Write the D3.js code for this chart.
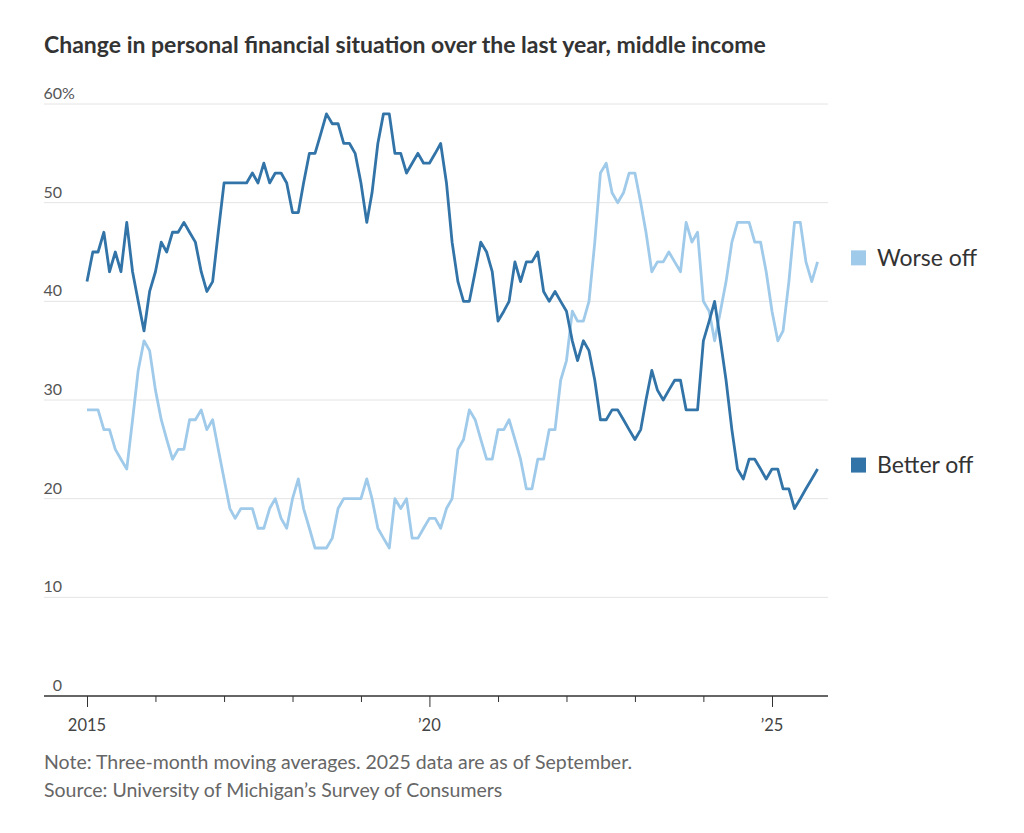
<!DOCTYPE html>
<html>
<head>
<meta charset="utf-8">
<script src="https://cdn.jsdelivr.net/npm/d3@7"></script>
<style>
  body { margin: 0; background: #fff; }
  text { font-family: Lato, "Noto Sans", sans-serif; }
</style>
</head>
<body>
<div id="chart"></div>
<script>
// monthly values, Jan 2015 .. Sep 2025 (three-month moving averages, %)
const worseOff = [
  29, 29, 29, 27, 27, 25, 24, 23, 28, 33, 36, 35,
  31, 28, 26, 24, 25, 25, 28, 28, 29, 27, 28, 25,
  22, 19, 18, 19, 19, 19, 17, 17, 19, 20, 18, 17,
  20, 22, 19, 17, 15, 15, 15, 16, 19, 20, 20, 20,
  20, 22, 20, 17, 16, 15, 20, 19, 20, 16, 16, 17,
  18, 18, 17, 19, 20, 25, 26, 29, 28, 26, 24, 24,
  27, 27, 28, 26, 24, 21, 21, 24, 24, 27, 27, 32,
  34, 39, 38, 38, 40, 46, 53, 54, 51, 50, 51, 53,
  53, 50, 47, 43, 44, 44, 45, 44, 43, 48, 46, 47,
  40, 39, 36, 39, 42, 46, 48, 48, 48, 46, 46, 43,
  39, 36, 37, 42, 48, 48, 44, 42, 44
];
const betterOff = [
  42, 45, 45, 47, 43, 45, 43, 48, 43, 40, 37, 41,
  43, 46, 45, 47, 47, 48, 47, 46, 43, 41, 42, 47,
  52, 52, 52, 52, 52, 53, 52, 54, 52, 53, 53, 52,
  49, 49, 52, 55, 55, 57, 59, 58, 58, 56, 56, 55,
  52, 48, 51, 56, 59, 59, 55, 55, 53, 54, 55, 54,
  54, 55, 56, 52, 46, 42, 40, 40, 43, 46, 45, 43,
  38, 39, 40, 44, 42, 44, 44, 45, 41, 40, 41, 40,
  39, 36, 34, 36, 35, 32, 28, 28, 29, 29, 28, 27,
  26, 27, 30, 33, 31, 30, 31, 32, 32, 29, 29, 29,
  36, 38, 40, 36, 32, 27, 23, 22, 24, 24, 23, 22,
  23, 23, 21, 21, 19, 20, 21, 22, 23
];
const seriesNames = ["Worse off", "Better off"];
const seriesColors = ["#9fcaea", "#3274a8"];
const yTicks = [0, 10, 20, 30, 40, 50, 60];
const tickYears = d3.range(2015, 2026);
const yearLabels = {2015: "2015", 2020: "\u201920", 2025: "\u201925"};

const months = worseOff.map((d, i) => new Date(2015, i, 1));

const width = 1024, height = 833;
const left = 44, right = 828;

const svg = d3.select("#chart")
    .append("svg")
    .attr("width", width)
    .attr("height", height);

const x = d3.scaleTime()
    .domain([new Date(2015, 0, 1), new Date(2025, 0, 1)])
    .range([87, 772]);
const y = d3.scaleLinear()
    .domain([0, 60])
    .range([696, 104]);

// title
svg.append("text")
    .attr("x", left)
    .attr("y", 53)
    .attr("font-size", 23)
    .attr("font-weight", 700)
    .attr("fill", "#333")
    .text("Change in personal financial situation over the last year, middle income");

// gridlines
svg.append("g")
    .selectAll("line")
    .data(yTicks.filter(d => d > 0))
    .join("line")
    .attr("x1", left).attr("x2", right)
    .attr("y1", d => y(d)).attr("y2", d => y(d))
    .attr("stroke", "#e4e4e4")
    .attr("stroke-width", 1);

// y labels, right aligned on the digits, % hangs out
const yl = svg.append("g")
    .attr("font-size", 16)
    .attr("fill", "#555");
yl.selectAll("text.num")
    .data(yTicks)
    .join("text")
    .attr("class", "num")
    .attr("x", 62)
    .attr("y", d => y(d) - 5)
    .attr("text-anchor", "end")
    .text(d => d);
yl.append("text")
    .attr("x", 62)
    .attr("y", y(60) - 5)
    .text("%");

// lines
const line = d3.line()
    .x((d, i) => x(months[i]))
    .y(d => y(d));

[worseOff, betterOff].forEach((s, k) => {
    svg.append("path")
        .datum(s)
        .attr("fill", "none")
        .attr("stroke", seriesColors[k])
        .attr("stroke-width", 2.8)
        .attr("stroke-linejoin", "round")
        .attr("d", line);
});

// x axis
const xAxis = svg.append("g")
    .attr("transform", `translate(0,${y(0)})`)
    .call(d3.axisBottom(x)
        .tickValues(tickYears.map(yr => new Date(yr, 0, 1)))
        .tickSize(6)
        .tickFormat(""));
xAxis.select(".domain").remove();
xAxis.selectAll(".tick line")
    .attr("stroke", "#333")
    .attr("y2", d => yearLabels[d.getFullYear()] ? 11 : 6);

svg.append("line")
    .attr("x1", left).attr("x2", right)
    .attr("y1", y(0)).attr("y2", y(0))
    .attr("stroke", "#333")
    .attr("stroke-width", 1.5);

svg.append("g")
    .attr("font-size", 16.5)
    .attr("fill", "#444")
    .selectAll("text")
    .data(tickYears.filter(yr => yearLabels[yr]))
    .join("text")
    .attr("x", yr => x(new Date(yr, 0, 1)))
    .attr("y", 731)
    .attr("text-anchor", "middle")
    .text(yr => yearLabels[yr]);

// legend at series end values
[worseOff, betterOff].forEach((s, k) => {
    const ly = y(s[s.length - 1]) - 4;
    svg.append("rect")
        .attr("x", 851).attr("y", ly - 7.5)
        .attr("width", 15).attr("height", 15)
        .attr("fill", seriesColors[k]);
    svg.append("text")
        .attr("x", 877).attr("y", ly)
        .attr("dy", "0.35em")
        .attr("font-size", 23)
        .attr("fill", "#333")
        .text(seriesNames[k]);
});

// notes
svg.append("text")
    .attr("x", left).attr("y", 769)
    .attr("font-size", 19.5)
    .attr("fill", "#666")
    .text("Note: Three-month moving averages. 2025 data are as of September.");
svg.append("text")
    .attr("x", left).attr("y", 797)
    .attr("font-size", 19.5)
    .attr("fill", "#666")
    .text("Source: University of Michigan\u2019s Survey of Consumers");
</script>
</body>
</html>
